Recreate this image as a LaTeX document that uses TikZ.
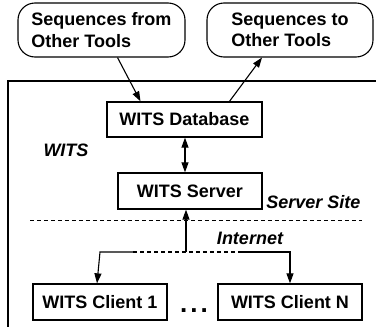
\documentclass[tikz,border=0pt]{standalone}
\usepackage{fontspec}
\setmainfont{Liberation Sans}
\usetikzlibrary{arrows.meta}

\begin{document}
\begin{tikzpicture}[x=1pt,y=-1pt,
    every node/.style={font=\fontsize{18}{21.6}\selectfont\bfseries},
    caja/.style={draw,line width=1.3pt,minimum height=36pt,inner sep=0pt},
    nube/.style={draw,line width=1.1pt,rounded corners=17pt,minimum height=54pt,align=left,inner sep=0pt},
    flecha/.style={-{Triangle[length=10pt,width=7pt]},line width=1.1pt},
    rotulo/.style={font=\fontsize{18}{21.6}\selectfont\bfseries\itshape}]
    \useasboundingbox (0,0) rectangle (376,327);

    % Marco del sistema
    \draw[line width=1.6pt] (8,330) -- (8,81) -- (380,81);

    % Herramientas externas
    \node[nube,minimum width=167pt] (desde) at (101.5,30) {Sequences from\\Other Tools};
    \node[nube,minimum width=166pt] (hacia) at (290,30) {Sequences to\\Other Tools};

    % Cajas del sistema
    \node[caja,minimum width=155pt,minimum height=35pt] (base) at (184.5,119.5) {WITS Database};
    \node[caja,minimum width=144pt] (servidor) at (190,191) {WITS Server};
    \node[caja,minimum width=134pt] (cliente1) at (100,302) {WITS Client 1};
    \node[caja,minimum width=144pt] (clienteN) at (290,302) {WITS Client N};
    \node[anchor=base,font=\fontsize{26}{30}\selectfont\bfseries] (puntos) at (194,312) {.\hspace{3pt}.\hspace{3pt}.};

    % Etiquetas
    \node[rotulo] (wits) at (66,150) {WITS};
    \node[rotulo,anchor=east] (sitio) at (364,202) {Server Site};
    \node[rotulo] (internet) at (250,238) {Internet};

    % Linea del sitio
    \coordinate (sitioA) at (30,220);
    \coordinate (sitioB) at (362,220);
    \draw[line width=0.9pt,dash pattern=on 4pt off 3pt] (sitioA) -- (sitioB);

    % Flechas
    \draw[flecha] ([xshift=16pt]desde.south) -- ([xshift=-44pt]base.north);
    \draw[flecha] ([xshift=45pt]base.north) -- ([xshift=-28pt]hacia.south);
    \draw[{Triangle[length=10pt,width=7pt]}-{Triangle[length=10pt,width=7pt]},line width=1.1pt]
        (base.south -| 185,0) -- (servidor.north -| 185,0);

    % Red
    \coordinate (nodoRed) at (186,252);
    \coordinate (ramaA) at (133,252);
    \coordinate (ramaB) at (240,252);
    \draw[flecha] (nodoRed) -- (servidor.south -| nodoRed);
    \draw[line width=1.1pt,dash pattern=on 4pt off 3pt] (ramaA) -- (ramaB);
    \draw[flecha] (ramaA) -- (cliente1.north |- ramaA) -- ([xshift=-3pt]cliente1.north);
    \draw[flecha] (ramaB) -- (clienteN.north |- ramaB) -- (clienteN.north);
\end{tikzpicture}
\end{document}
